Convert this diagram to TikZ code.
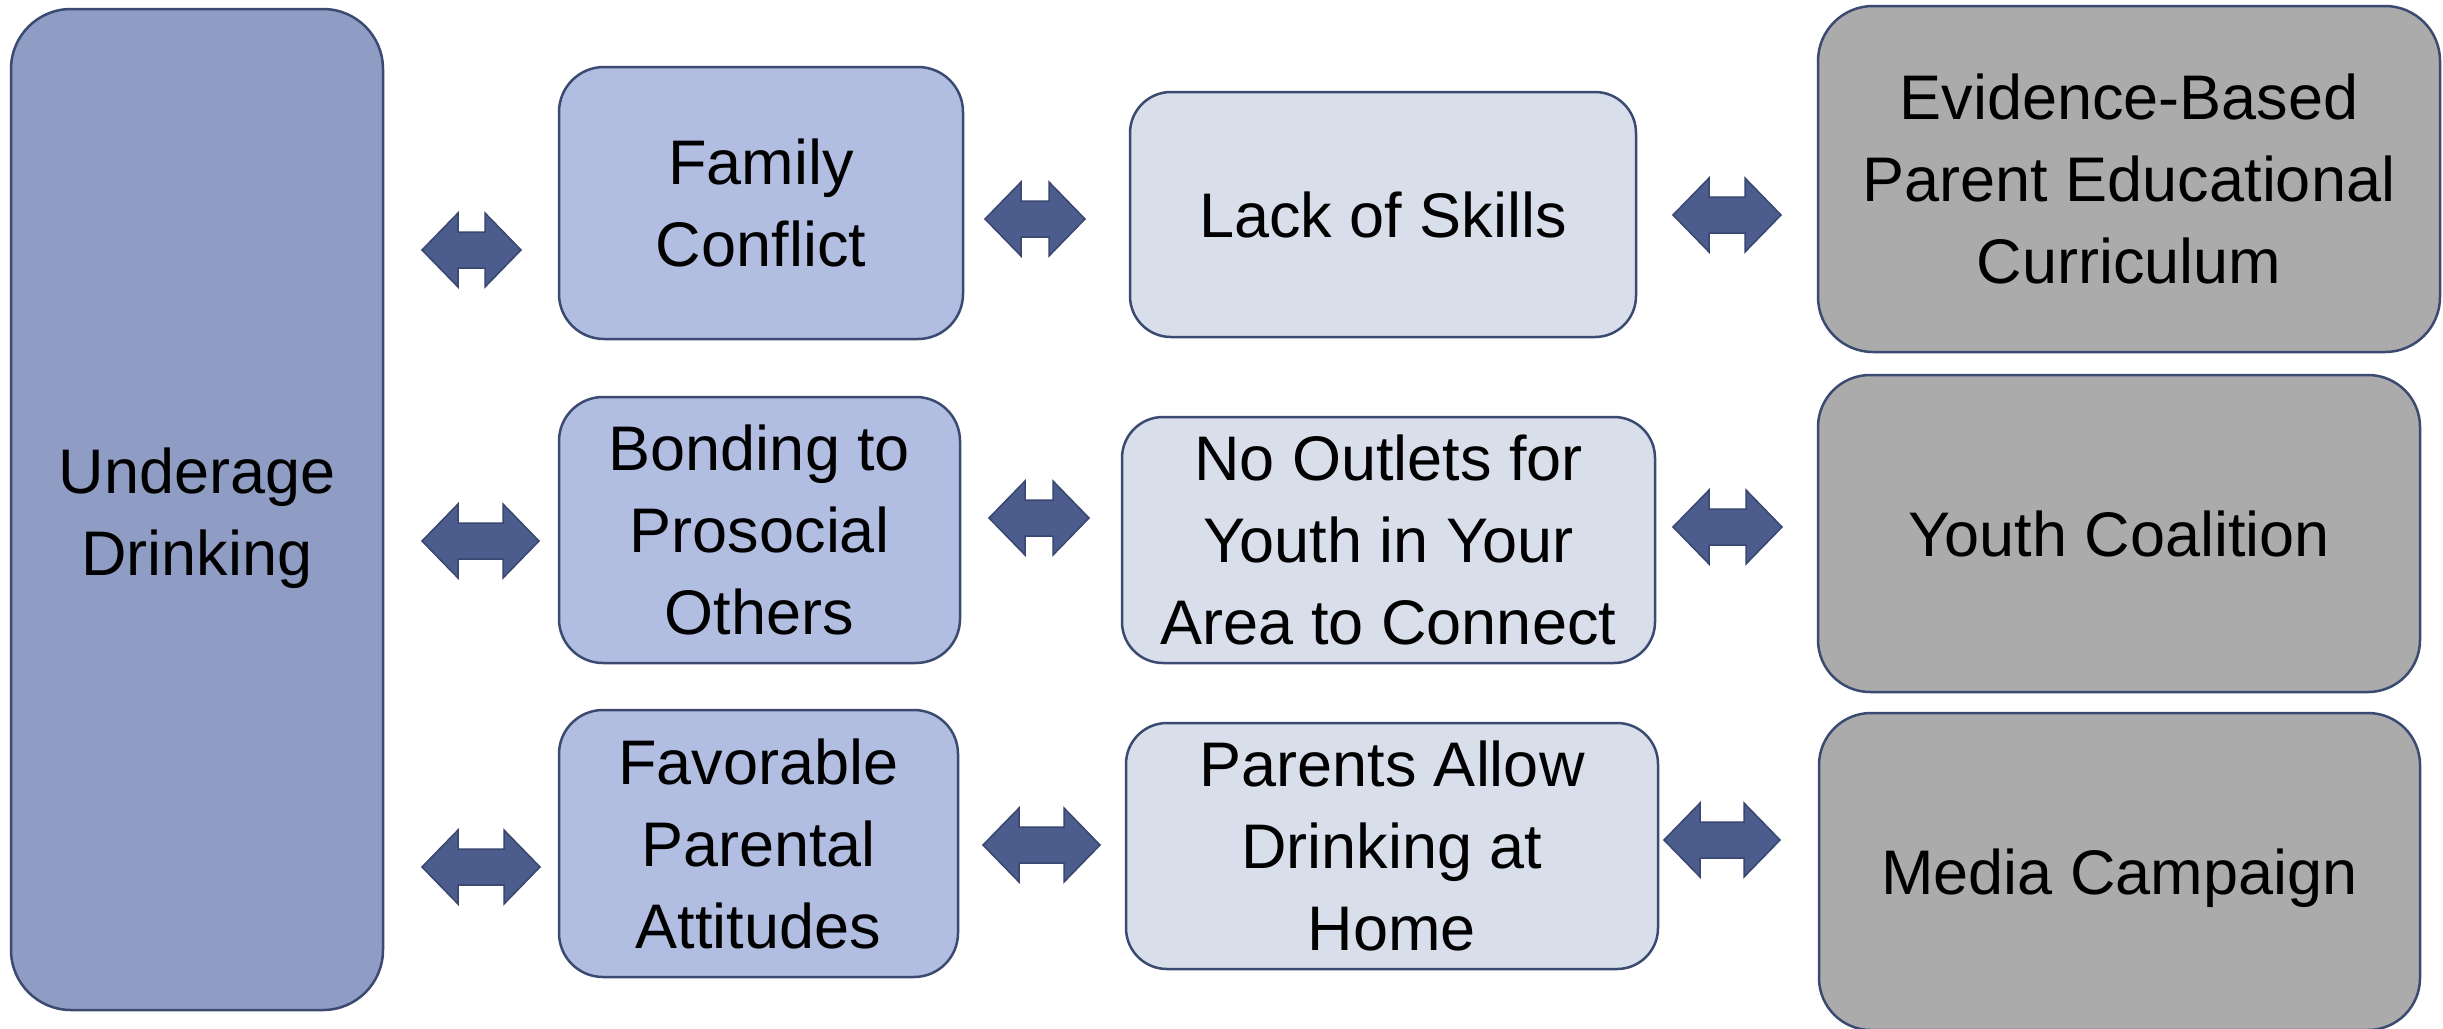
\documentclass[tikz,border=0pt]{standalone}
\usepackage{fontspec}
\setmainfont{Liberation Sans}
\definecolor{boxline}{RGB}{59,74,112}
\definecolor{darkfill}{RGB}{143,157,196}
\definecolor{midfill}{RGB}{177,190,225}
\definecolor{lightfill}{RGB}{216,222,234}
\definecolor{grayfill}{RGB}{171,171,171}
\definecolor{arrfill}{RGB}{76,92,140}
\definecolor{arrline}{RGB}{56,70,112}
\newcommand\dblarr[3]{%
  \draw[arrsty] ({#1},{#3}) -- ({#1+36},{#3-37}) -- ({#1+36},{#3-18}) -- ({#2-36},{#3-18})
    -- ({#2-36},{#3-37}) -- ({#2},{#3}) -- ({#2-36},{#3+37}) -- ({#2-36},{#3+18})
    -- ({#1+36},{#3+18}) -- ({#1+36},{#3+37}) -- cycle;}
\begin{document}
\begin{tikzpicture}[x=1pt,y=-1pt,
  box/.style={draw=boxline, line width=2.5pt, align=center, inner sep=0pt,
    font=\fontsize{63}{82}\selectfont},
  darkbox/.style={box, fill=darkfill},
  midbox/.style={box, fill=midfill},
  lightbox/.style={box, fill=lightfill},
  graybox/.style={box, fill=grayfill},
  arrsty/.style={fill=arrfill, draw=arrline, line width=1.5pt, line join=miter}]
\useasboundingbox (0,0) rectangle (2443,1028);
% column 1
\node[darkbox, minimum width=372pt, minimum height=1001pt, rounded corners=60pt] (ud) at (197,509.5)
  {\raisebox{-9pt}[\height][\depth]{\begin{tabular}{@{}c@{}}Underage\\Drinking\end{tabular}}};
% column 2
\node[midbox, minimum width=404pt, minimum height=272pt, rounded corners=45pt] (fc) at (761,203) {Family\\Conflict};
\node[midbox, minimum width=401pt, minimum height=266pt, rounded corners=44pt] (bp) at (759.5,530) {Bonding to\\Prosocial\\Others};
\node[midbox, minimum width=399pt, minimum height=267pt, rounded corners=44pt] (fp) at (758.5,843.5) {Favorable\\Parental\\Attitudes};
% column 3
\node[lightbox, minimum width=506pt, minimum height=245pt, rounded corners=41pt] (ls) at (1383,214.5) {Lack of Skills};
\node[lightbox, minimum width=533pt, minimum height=246pt, rounded corners=41pt] (no) at (1388.5,540) {No Outlets for\\Youth in Your\\Area to Connect};
\node[lightbox, minimum width=532pt, minimum height=246pt, rounded corners=41pt] (pa) at (1392,846) {Parents Allow\\Drinking at\\Home};
% column 4
\node[graybox, minimum width=622pt, minimum height=346pt, rounded corners=55pt] (eb) at (2129,179) {Evidence-Based\\Parent Educational\\Curriculum};
\node[graybox, minimum width=602pt, minimum height=317pt, rounded corners=52pt] (yc) at (2119,533.5) {Youth Coalition};
\node[graybox, minimum width=601pt, minimum height=317pt, rounded corners=52pt] (mc) at (2119.5,871.5)
  {\raisebox{-7pt}[\height][\depth]{Media Campaign}};
% double arrows
\dblarr{422}{521}{250}
\dblarr{985}{1085}{219}
\dblarr{1673}{1781}{215}
\dblarr{422}{539}{541}
\dblarr{989}{1089}{518}
\dblarr{1673}{1782}{527}
\dblarr{422}{540}{867}
\dblarr{983}{1100}{845}
\dblarr{1664}{1780}{840}
\end{tikzpicture}
\end{document}
